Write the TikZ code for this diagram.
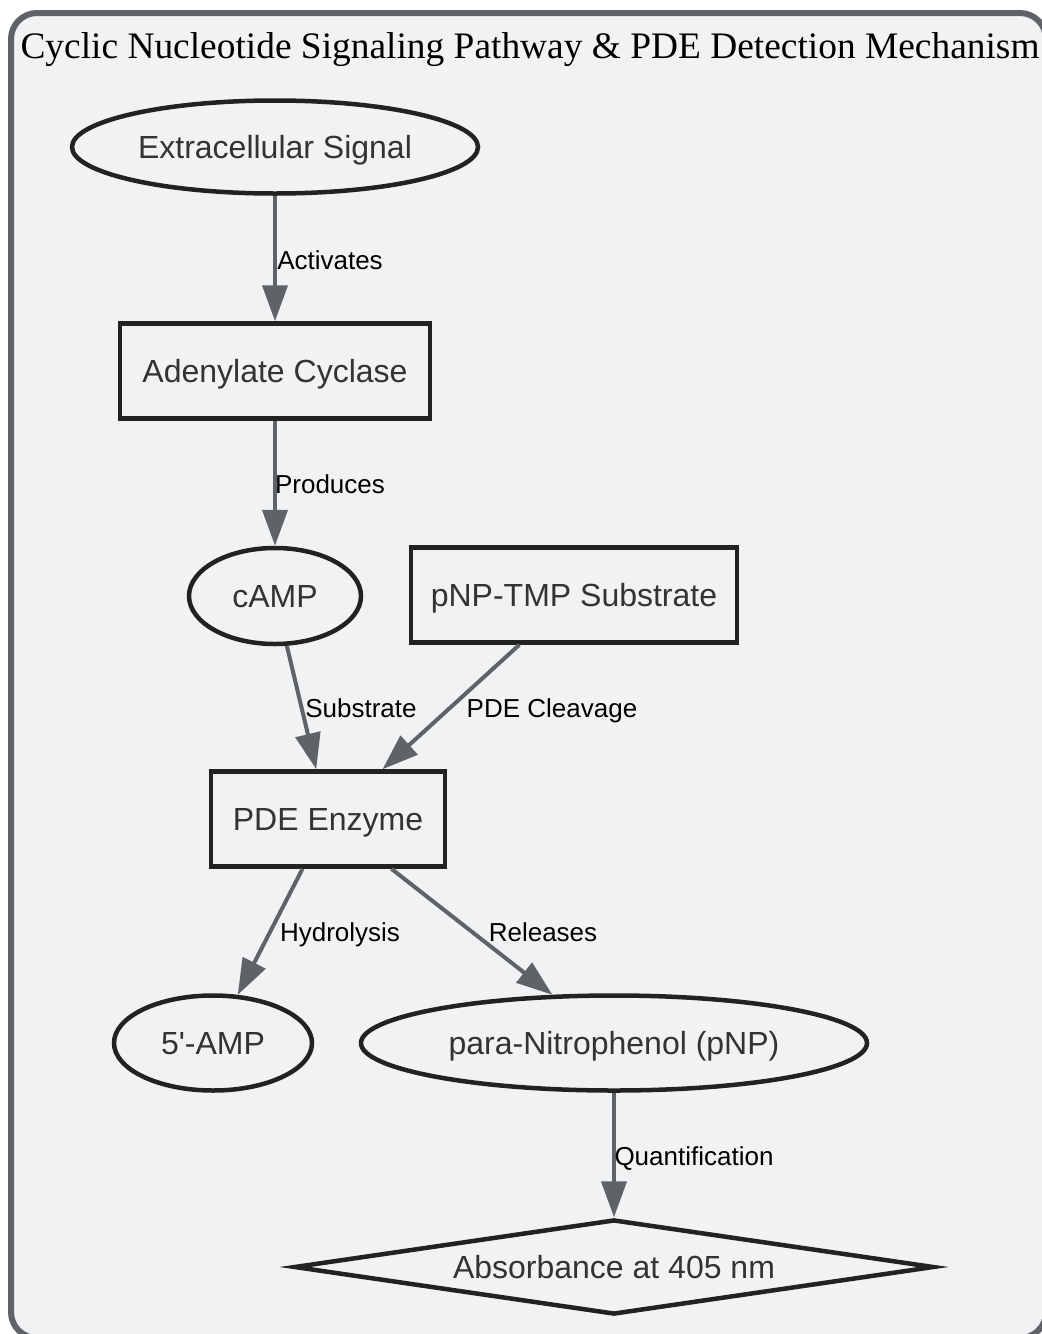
\documentclass[tikz,border=0pt]{standalone}
\usepackage{fontspec}
\setmainfont{Liberation Serif}
\newfontfamily\sansf{Liberation Sans}
\usetikzlibrary{shapes.geometric,arrows.meta}
\definecolor{bgc}{HTML}{F1F2F4}
\definecolor{framec}{HTML}{5F6368}
\definecolor{nodeb}{HTML}{222222}
\definecolor{nodet}{HTML}{333333}
\definecolor{edgec}{HTML}{5F6368}
\tikzset{
  base/.style={draw=nodeb, line width=4.5pt, fill=bgc, text=nodet, inner sep=0pt, text depth=0pt,
    font=\sansf\fontsize{32}{36}\selectfont},
  ell/.style={base, ellipse},
  box/.style={base, rectangle},
  dia/.style={base, diamond, aspect=6.72},
  conn/.style={draw=edgec, line width=4pt, -{Triangle[length=36pt,width=25pt]}},
  elab/.style={text=black, inner sep=0pt, text depth=0pt, font=\sansf\fontsize{26}{30}\selectfont},
}
\begin{document}
\begin{tikzpicture}[x=1pt,y=-1pt]
\useasboundingbox (0,0) rectangle (1042,1334);
\draw[draw=framec, fill=bgc, line width=6pt, rounded corners=26pt] (11,13) rectangle (1046,1338);
\node[font=\fontsize{37.4}{42}\selectfont, text=black, inner sep=0pt] (title) at (530,50) {Cyclic Nucleotide Signaling Pathway \& PDE Detection Mechanism};

\node[ell, minimum width=406pt, minimum height=93pt] (es) at (275,147) {Extracellular Signal};
\node[box, minimum width=310pt, minimum height=95pt] (ac) at (275,371) {Adenylate Cyclase};
\node[ell, minimum width=172pt, minimum height=96pt] (camp) at (275,596) {cAMP};
\node[box, minimum width=326pt, minimum height=95pt] (tmp) at (574,595) {pNP-TMP Substrate};
\node[box, minimum width=234pt, minimum height=95pt] (pde) at (328,819) {PDE Enzyme};
\node[ell, minimum width=198pt, minimum height=95pt] (amp) at (213,1043) {5'-AMP};
\node[ell, minimum width=506pt, minimum height=95pt] (pnp) at (614,1043) {para-Nitrophenol (pNP)};
\node[dia, minimum width=640pt, minimum height=95pt] (abs) at (614,1267) {Absorbance at 405 nm};

\draw[conn] (es) -- (ac);
\draw[conn] (ac) -- (camp);
\draw[conn] (camp) -- (pde);
\draw[conn] (tmp) -- (pde);
\draw[conn] (pde) -- (amp);
\draw[conn] (pde) -- (pnp);
\draw[conn] (pnp) -- (abs);

\node[elab] (l1) at (330,260) {Activates};
\node[elab] (l2) at (330,484) {Produces};
\node[elab] (l3) at (361,708) {Substrate};
\node[elab] (l4) at (552,708) {PDE Cleavage};
\node[elab] (l5) at (340,932) {Hydrolysis};
\node[elab] (l6) at (543,932) {Releases};
\node[elab] (l7) at (694,1156) {Quantification};
\end{tikzpicture}
\end{document}
